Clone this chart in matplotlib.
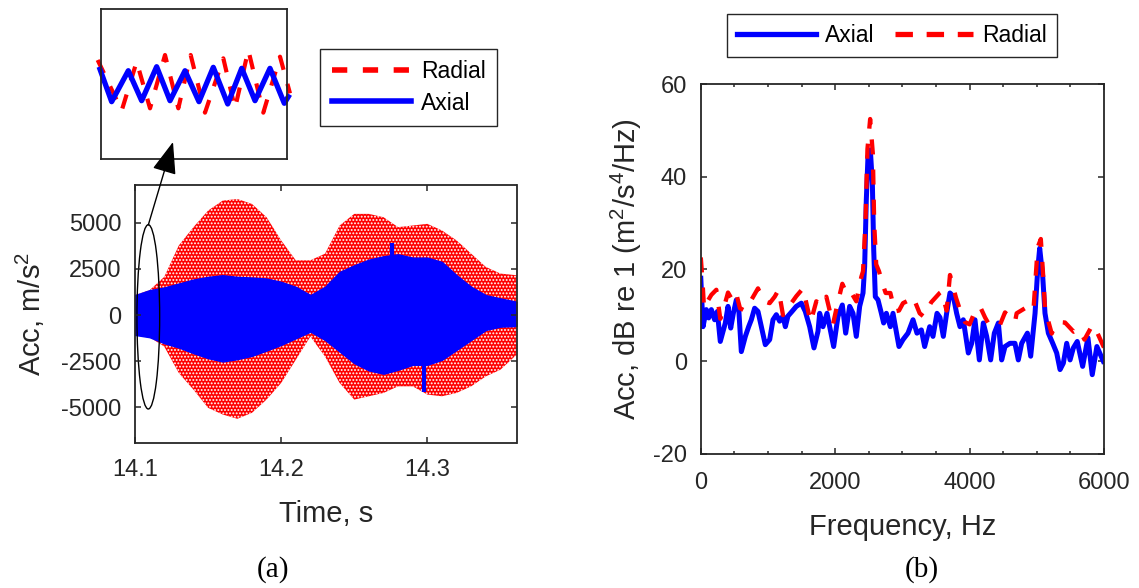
import matplotlib.pyplot as plt
from matplotlib.lines import Line2D
from matplotlib.patches import Ellipse, FancyArrowPatch
from matplotlib.ticker import MultipleLocator

plt.rcParams['font.family'] = ['Liberation Sans', 'DejaVu Sans']
plt.rcParams['mathtext.fontset'] = 'custom'
plt.rcParams['mathtext.rm'] = 'Liberation Sans'
plt.rcParams['mathtext.it'] = 'Liberation Sans:italic'
plt.rcParams['axes.unicode_minus'] = False
plt.rcParams['hatch.linewidth'] = 0.9

TXT = '#262626'
RED = '#ff0000'
BLUE = '#0000ff'

# (a) envelopes of the acceleration signals, m/s^2
time_s = [14.100, 14.110, 14.120, 14.130, 14.140, 14.150, 14.160, 14.170, 14.180,
          14.190, 14.200, 14.210, 14.220, 14.230, 14.240, 14.250, 14.260, 14.270,
          14.280, 14.290, 14.300, 14.310, 14.320, 14.330, 14.340, 14.350, 14.361]
axial_hi = [1080, 1350, 1495, 1710, 1927, 2071, 2161, 2071, 2035, 1980, 1800, 1530,
            1080, 1530, 2340, 2700, 3008, 3190, 3297, 3116, 3116, 2882, 2161, 1530,
            1080, 900, 720]
axial_lo = [-1082, -1208, -1533, -1767, -2073, -2344, -2524, -2398, -2218, -1930,
            -1623, -1263, -902, -1353, -1983, -2614, -3010, -3190, -2974, -2704,
            -2704, -2434, -1893, -1353, -812, -632, -596]
radial_hi = [1080, 1350, 2071, 3783, 4774, 5675, 6216, 6306, 6036, 5315, 4054, 2972,
             2972, 3333, 4864, 5495, 5495, 5315, 4774, 4864, 4954, 4594, 4054, 3333,
             2612, 2251, 2161]
radial_lo = [-1082, -1208, -1713, -3155, -4056, -5047, -5407, -5641, -5317, -4596,
             -3696, -2434, -1172, -2254, -3696, -4596, -4416, -4236, -3875, -3875,
             -4326, -4416, -4236, -3875, -3335, -2974, -2163]
spike_t = [14.276, 14.2976]
spike_hi = [3890, 0]
spike_lo = [0, -4170]

# inset: first 3 ms after 14.1 s
inset_axial_ms = [-0.016, 0.172, 0.441, 0.657, 0.899, 1.115, 1.357, 1.583, 1.814,
                  2.047, 2.273, 2.488, 2.730, 2.961, 3.026]
inset_axial = [800, -928, 725, -875, 939, -875, 725, -928, 907, -1051, 853, -875,
               853, -1013, -661]
inset_radial_ms = [-0.054, 0.334, 0.576, 0.792, 1.034, 1.249, 1.449, 1.680, 1.976,
                   2.165, 2.380, 2.622, 2.892, 3.053]
inset_radial = [1296, -1406, 1207, -1282, 1563, -1282, 1563, -1513, 1385, -1282,
                1829, -1513, 1474, -482]

# (b) spectra, dB re 1 (m^2/s^4/Hz)
axial_f = [0, 33, 82, 117, 157, 206, 246, 290, 365, 405, 445, 484, 529, 564, 603, 663,
           712, 752, 801, 851, 901, 960, 1025, 1074, 1124, 1173, 1223, 1258, 1297,
           1357, 1421, 1496, 1555, 1620, 1684, 1744, 1769, 1818, 1878, 1977, 2041,
           2106, 2156, 2215, 2265, 2314, 2364, 2414, 2438, 2463, 2488, 2523, 2553,
           2573, 2597, 2637, 2687, 2721, 2761, 2821, 2860, 2949, 3009, 3083, 3158,
           3217, 3282, 3331, 3406, 3455, 3515, 3559, 3609, 3658, 3708, 3757, 3807,
           3857, 3906, 3981, 4031, 4080, 4145, 4204, 4254, 4313, 4368, 4428, 4477,
           4527, 4601, 4675, 4725, 4775, 4860, 4909, 4974, 5013, 5043, 5088, 5122,
           5172, 5237, 5296, 5346, 5395, 5445, 5495, 5544, 5602, 5682, 5761, 5825,
           5894, 5990]
axial_db = [18.0, 7.5, 11.2, 9.4, 11.2, 9.0, 10.8, 4.3, 8.3, 11.9, 7.2, 10.4, 13.3,
            11.5, 2.1, 5.4, 7.5, 9.0, 11.5, 10.8, 7.5, 3.6, 4.7, 9.0, 10.1, 8.7, 9.8,
            7.5, 9.8, 10.8, 11.9, 12.6, 10.8, 7.5, 2.9, 6.5, 10.4, 7.5, 10.4, 3.2,
            9.7, 12.2, 6.1, 11.9, 10.4, 5.4, 11.9, 14.8, 20.5, 35.0, 44.4, 45.8,
            38.6, 24.2, 14.0, 13.3, 10.4, 8.3, 10.4, 7.5, 10.4, 3.2, 4.7, 6.1, 9.0,
            6.1, 6.8, 3.2, 7.5, 5.4, 10.4, 9.5, 5.4, 10.4, 14.8, 14.1, 10.4, 7.5,
            9.0, 1.8, 3.9, 9.0, 0.3, 8.3, 5.4, 0.3, 6.1, 8.3, 0.3, 3.2, 3.9, 3.9,
            0.3, 3.9, 6.1, 1.1, 10.4, 19.8, 24.5, 18.4, 10.4, 6.1, 3.9, 1.8, -1.8,
            -0.4, 3.9, 0.3, 2.9, 4.3, -1.1, 5.1, -2.9, 3.2, 0.0]
radial_f = [0, 25, 48, 100, 157, 231, 290, 350, 405, 480, 530, 583, 650, 752, 851,
            940, 1025, 1100, 1158, 1223, 1290, 1347, 1421, 1521, 1580, 1635, 1719,
            1790, 1868, 1967, 2027, 2106, 2160, 2215, 2314, 2389, 2414, 2450, 2480,
            2520, 2560, 2580, 2610, 2652, 2711, 2751, 2821, 2885, 2950, 3009, 3108,
            3158, 3257, 3316, 3430, 3555, 3584, 3658, 3708, 3797, 3860, 3931, 4000,
            4070, 4154, 4230, 4303, 4380, 4452, 4527, 4600, 4675, 4700, 4824, 4949,
            5013, 5060, 5098, 5122, 5222, 5271, 5330, 5420, 5549, 5630, 5709, 5829,
            5866, 5983, 6000]
radial_db = [22.5, 17.5, 11.5, 13.0, 14.4, 15.5, 9.2, 12.0, 14.9, 13.0, 14.5, 11.5,
             11.0, 13.3, 15.8, 13.0, 12.6, 14.0, 15.5, 10.0, 12.0, 12.6, 14.1, 15.8,
             12.0, 8.5, 13.0, 12.0, 14.0, 8.0, 12.0, 16.8, 15.0, 15.5, 13.0, 18.3,
             19.5, 30.0, 46.0, 52.5, 45.0, 30.0, 21.0, 19.5, 16.5, 14.8, 14.8, 10.8,
             11.0, 12.6, 13.3, 14.0, 10.4, 9.7, 12.8, 14.8, 15.1, 11.0, 18.7, 13.8,
             11.0, 8.5, 8.0, 10.5, 11.9, 9.5, 7.6, 7.5, 7.9, 10.6, 9.5, 8.5, 10.4,
             11.5, 10.8, 24.7, 26.5, 17.8, 11.3, 6.0, 7.7, 8.5, 8.4, 6.4, 7.0, 4.7,
             7.9, 7.3, 3.5, 3.0]

W, H = 1139, 588
fig = plt.figure(figsize=(W / 100, H / 100), dpi=100)


def style_axes(ax, pad_x, pad_y):
    for sp in ax.spines.values():
        sp.set_linewidth(1.3)
        sp.set_color(TXT)
    ax.tick_params(which='both', direction='in', top=True, right=True, colors=TXT,
                   labelsize=17, width=1.1)
    ax.tick_params(which='major', length=4.5)
    ax.tick_params(which='minor', length=2.5)
    ax.tick_params(axis='x', pad=pad_x)
    ax.tick_params(axis='y', pad=pad_y)


# ---- (a) time signal
ax1 = fig.add_axes([135 / W, 1 - 442.7 / H, 381.5 / W, 257.7 / H])
ax1.fill_between(time_s, radial_lo, radial_hi, facecolor=RED, edgecolor='none', lw=0)
ax1.fill_between(time_s, radial_lo, radial_hi, facecolor='none', edgecolor='white',
                 hatch='.....', lw=0)
ax1.fill_between(time_s, axial_lo, axial_hi, facecolor=BLUE, edgecolor=BLUE, lw=1)
ax1.vlines(spike_t, spike_lo, spike_hi, color=BLUE, lw=3)
ax1.add_patch(Ellipse((14.1091, -100), 0.01555, 10016, fill=False, ec='k', lw=1))
ax1.set_xlim(14.1, 14.361)
ax1.set_ylim(-6940, 7065)
ax1.set_xticks([14.1, 14.2, 14.3])
ax1.set_yticks([-5000, -2500, 0, 2500, 5000])
style_axes(ax1, 11.5, 10)
ax1.set_xlabel('Time, s', fontsize=21, color=TXT, va='baseline')
ax1.xaxis.set_label_coords(0.5, -0.3066)
ax1.set_ylabel('Acc, m/s$^2$', fontsize=21, color=TXT, va='center')
ax1.yaxis.set_label_coords(-0.275, 0.5)

# inset
axi = fig.add_axes([101 / W, 1 - 159.3 / H, 185.7 / W, 150 / H])
axi.plot(inset_radial_ms, inset_radial, color=RED, lw=3.0, ls=(0, (3.5, 3.5)),
         clip_on=False)
axi.plot(inset_axial_ms, inset_axial, color=BLUE, lw=3.8, clip_on=False)
axi.set_xlim(0, 3.0)
axi.set_ylim(-4000, 4000)
axi.set_xticks([])
axi.set_yticks([])
for sp in axi.spines.values():
    sp.set_linewidth(1.3)
    sp.set_color(TXT)

fig.add_artist(FancyArrowPatch((148.3 / W, 1 - 225 / H), (173 / W, 1 - 142 / H),
                               transform=fig.transFigure,
                               arrowstyle='-|>,head_length=1.0,head_width=0.38',
                               mutation_scale=20, lw=1, color='k',
                               shrinkA=0, shrinkB=0))

leg_a = [Line2D([], [], color=RED, lw=4.0, ls=(0, (2.75, 2.8))),
         Line2D([], [], color=BLUE, lw=4.0)]
fig.legend(leg_a, ['Radial', 'Axial'], loc='center',
           bbox_to_anchor=(408.5 / W, 1 - 87.5 / H), fontsize=16.5,
           frameon=True, fancybox=False, edgecolor=TXT, framealpha=1,
           handlelength=3.45, handletextpad=0.44, borderpad=0.5, labelspacing=0.35)

# ---- (b) spectra
ax2 = fig.add_axes([700.8 / W, 1 - 453.6 / H, 403.2 / W, 369.2 / H])
ax2.plot(axial_f, axial_db, color=BLUE, lw=3.6)
ax2.plot(radial_f, radial_db, color=RED, lw=3.1, ls=(0, (3.5, 3.5)))
ax2.set_xlim(0, 6000)
ax2.set_ylim(-20, 60)
ax2.set_xticks([0, 2000, 4000, 6000])
ax2.xaxis.set_minor_locator(MultipleLocator(500))
ax2.set_yticks([-20, 0, 20, 40, 60])
style_axes(ax2, 13, 10)
ax2.set_xlabel('Frequency, Hz', fontsize=21, color=TXT, va='baseline')
ax2.xaxis.set_label_coords(0.5, -0.2205)
ax2.set_ylabel('Acc, dB re 1 (m$^2$/s$^4$/Hz)', fontsize=21, color=TXT, va='center')
ax2.yaxis.set_label_coords(-0.1855, 0.5)

leg_b = [Line2D([], [], color=BLUE, lw=3.8),
         Line2D([], [], color=RED, lw=3.8, ls=(0, (3.3, 2.6)))]
fig.legend(leg_b, ['Axial', 'Radial'], loc='center', ncol=2,
           bbox_to_anchor=(891.9 / W, 1 - 35.65 / H), fontsize=16.5,
           frameon=True, fancybox=False, edgecolor=TXT, framealpha=1,
           handlelength=3.43, handletextpad=0.39, columnspacing=0.9, borderpad=0.45)

fig.text(273.3 / W, 1 - 570 / H, '(a)', ha='center', va='center',
         family='Liberation Serif', fontsize=21)
fig.text(922 / W, 1 - 570 / H, '(b)', ha='center', va='center',
         family='Liberation Serif', fontsize=21)

fig.savefig('out.png', dpi=100)
